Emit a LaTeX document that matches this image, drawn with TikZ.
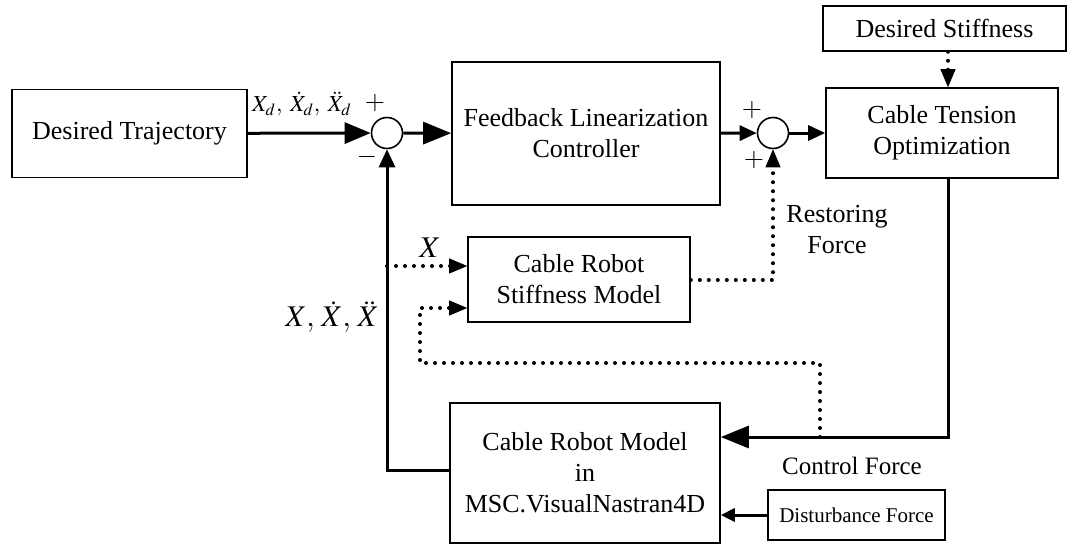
\documentclass[tikz,border=0pt]{standalone}
\usepackage{mathptmx}
\usepackage[no-math]{fontspec}
\setmainfont{Liberation Serif}
\usepackage{amsmath}
\usepackage{tikz}
\usetikzlibrary{arrows.meta, positioning, calc}

\begin{document}
\begin{tikzpicture}[
    x=0.5pt, y=-0.5pt,
    block/.style={rectangle, draw, line width=0.8pt, align=center,
                  font=\fontsize{13pt}{15.5pt}\selectfont, inner sep=0pt},
    sum/.style={circle, draw, line width=0.8pt, minimum size=15.5pt, inner sep=0pt},
    wire/.style={line width=1.5pt},
    dotline/.style={line width=2pt, line cap=round, dash pattern=on 0pt off 4.5pt},
    bigarrow/.style={-{Triangle[length=14pt, width=11pt]}},
    midarrow/.style={-{Triangle[length=8.5pt, width=7.5pt]}},
    dotarrow/.style={-{Triangle[length=9pt, width=7.5pt, line cap=butt]}},
    lbl/.style={font=\fontsize{13pt}{15.5pt}\selectfont, align=center, inner sep=0pt},
]
    \useasboundingbox (0,0) rectangle (1068,546);

    % Forward path
    \node[block, minimum width=117.5pt, minimum height=44pt] (traj) at (129.5,133.5) {Desired Trajectory};
    \node[sum] (sum1) at (387,133) {};
    \node[block, minimum width=134pt, minimum height=71.5pt] (flc) at (586,133.5) {Feedback Linearization\\Controller};
    \node[sum] (sum2) at (773,133) {};
    \node[block, minimum width=116pt, minimum height=45pt] (cto) at (942,133) {Cable Tension\\Optimization};
    \node[block, minimum width=121.5pt, minimum height=22.5pt] (dstiff) at (944.5,28.5) {Desired Stiffness};

    \draw[wire, -{Triangle[length=13pt, width=10.5pt]}] (traj) -- (sum1);
    \draw[wire, bigarrow] (sum1) -- (flc);
    \draw[wire, midarrow] (flc) -- (sum2);
    \draw[wire, midarrow] (sum2) -- (cto);

    \node[font=\fontsize{11.5pt}{13pt}\selectfont, inner sep=0pt] (xd) at (302,104)
         {$X_d,\;\dot{X}_d,\;\ddot{X}_d$};
    \node[lbl] (p1) at (375,103) {$+$};
    \node[lbl] (m1) at (367,157) {$-$};
    \node[lbl] (p2) at (752,110) {$+$};
    \node[lbl] (p3) at (754,160) {$+$};

    % Plant and models
    \node[block, minimum width=111pt, minimum height=42.5pt] (csm) at (579,279.5) {Cable Robot\\Stiffness Model};
    \node[block, minimum width=135pt, minimum height=70pt] (crm) at (585,473) {Cable Robot Model\\in\\MSC.VisualNastran4D};
    \node[block, minimum width=88.5pt, minimum height=25pt,
          font=\fontsize{10.5pt}{12pt}\selectfont] (dist) at (856.5,515) {Disturbance Force};

    \coordinate (ctl) at (948,437);
    \coordinate (fbc) at (387,470);
    \coordinate (xtap) at (387,266);
    \coordinate (lp1) at (820,437);
    \coordinate (lp2) at (420,363);
    \coordinate (lp3) at (420,308);
    \coordinate (rf) at (773,280);

    \draw[dotline] (dstiff.south -| ctl) -- ++(0,22);
    \draw[dotarrow] ($(dstiff.south -| ctl)+(0,20)$) -- (cto.north -| ctl);
    \draw[wire, bigarrow] (cto.south -| ctl) -- (ctl) -- (crm.east |- ctl);
    \draw[wire, -{Triangle[length=7pt, width=6.5pt]}] (dist) -- (crm.east |- dist);

    % Feedback
    \draw[wire, -{Triangle[length=9pt, width=8pt]}] (crm.west |- fbc) -- (fbc) -- (sum1.south);
    \draw[dotline] (xtap) -- ($(csm.west |- xtap)+(-14,0)$);
    \draw[dotarrow] ($(csm.west |- xtap)+(-17,0)$) -- (csm.west |- xtap);
    \draw[dotline] (lp1) -- (lp1 |- lp2) -- (lp2) -- (lp3) -- ($(csm.west |- lp3)+(-14,0)$);
    \draw[dotarrow] ($(csm.west |- lp3)+(-17,0)$) -- (csm.west |- lp3);
    \draw[dotline] (csm.east |- rf) -- (rf) -- ($(sum2.south)+(0,14)$);
    \draw[dotarrow] ($(sum2.south)+(0,17)$) -- (sum2.south);

    \node[font=\fontsize{15pt}{17pt}\selectfont, inner sep=0pt] (xall) at (332,317) {$X,\,\dot{X},\,\ddot{X}$};
    \node[font=\fontsize{15pt}{17pt}\selectfont, inner sep=0pt] (xonly) at (430,248) {$X$};
    \node[lbl] (rest) at (837,230) {Restoring\\Force};
    \node[font=\fontsize{12.5pt}{15pt}\selectfont, inner sep=0pt] (ctrl) at (852,466) {Control Force};
\end{tikzpicture}
\end{document}
